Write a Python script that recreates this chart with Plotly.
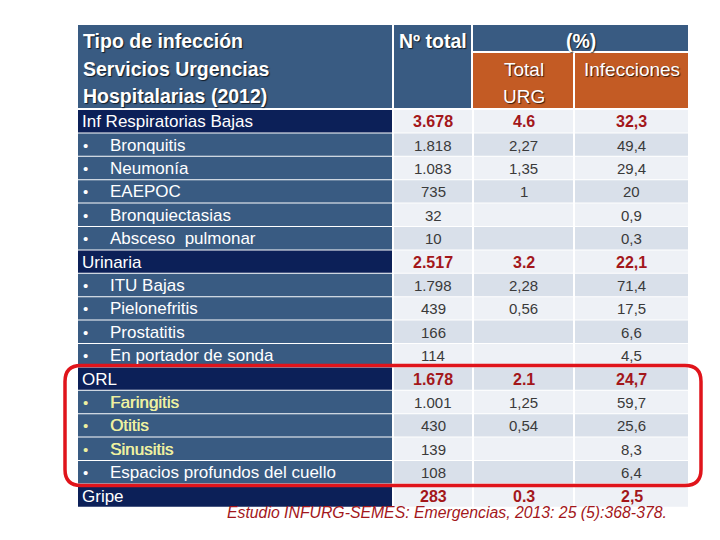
import plotly.graph_objects as go

# ---------------- data ----------------
labels = ["Inf Respiratorias Bajas", "Bronquitis", "Neumonía", "EAEPOC", "Bronquiectasias",
          "Absceso  pulmonar", "Urinaria", "ITU Bajas", "Pielonefritis", "Prostatitis",
          "En portador de sonda", "ORL", "Faringitis", "Otitis", "Sinusitis",
          "Espacios profundos del cuello", "Gripe"]
is_category = [True, False, False, False, False, False, True, False, False, False, False,
               True, False, False, False, False, True]
highlighted = ["Faringitis", "Otitis", "Sinusitis"]
n_total = ["3.678", "1.818", "1.083", "735", "32", "10", "2.517", "1.798", "439", "166", "114",
           "1.678", "1.001", "430", "139", "108", "283"]
pct_total_urg = ["4.6", "2,27", "1,35", "1", "", "", "3.2", "2,28", "0,56", "", "",
                 "2.1", "1,25", "0,54", "", "", "0.3"]
pct_infecciones = ["32,3", "49,4", "29,4", "20", "0,9", "0,3", "22,1", "71,4", "17,5", "6,6", "4,5",
                   "24,7", "59,7", "25,6", "8,3", "6,4", "2,5"]
header_left = ["Tipo de infección", "Servicios Urgencias", "Hospitalarias (2012)"]
header_n = "Nº total"
header_pct = "(%)"
header_sub = ["Total", "URG", "Infecciones"]
footer = "Estudio INFURG-SEMES: Emergencias, 2013: 25 (5):368-378."
highlight_rows = ["ORL"] + highlighted + ["Espacios profundos del cuello"]

# ---------------- layout constants ----------------
FONT = "Liberation Sans, Arial, sans-serif"
BLUE = "#395b82"
NAVY = "#0c2058"
ORANGE = "#c35b24"
LIGHT = "#eef1f6"
DARKER = "#d9e0ea"
RED_TXT = "#a3171b"
GRAY_TXT = "#3a3a3a"
YELLOW = "#eef0a0"

col_left = (78, 392)
col_n = (394, 472)
col_urg = (474, 573)
col_inf = (575, 688)
head_top, head_mid, head_bot = 25, 51, 108
row_top, row_h, gap = 110, 23.4, 1.0

shapes = []
ann = []


def rect(x0, x1, y0, y1, color):
    shapes.append(dict(type="rect", xref="x", yref="y", x0=x0, x1=x1, y0=y0, y1=y1,
                       fillcolor=color, line=dict(width=0), layer="below"))


def text(x, y, s, size, color, anchor="center", bold=False, italic=False, shadow=None):
    f = dict(family=FONT, size=size, color=color)
    if bold:
        f["weight"] = "bold"
    if italic:
        f["style"] = "italic"
    if shadow:
        f["shadow"] = shadow
    ann.append(dict(x=x, y=y, xref="x", yref="y", text=s, showarrow=False, font=f,
                    xanchor=anchor, yanchor="middle"))


SH = "1px 1px 1px rgba(0,0,0,0.7)"
# header cells
rect(col_left[0], col_left[1], head_top, head_bot, BLUE)
rect(col_n[0], col_n[1] - 1, head_top, head_bot, BLUE)
rect(col_urg[0] - 1, col_inf[1], head_top, head_mid, BLUE)
rect(col_urg[0] - 1, col_urg[1], head_mid + 2, head_bot, ORANGE)
rect(col_inf[0], col_inf[1], head_mid + 2, head_bot, ORANGE)

for i, line in enumerate(header_left):
    text(81, 41 + i * 27.5, line, 19.5, "white", anchor="left", bold=True, shadow=SH)
text((col_n[0] + col_n[1]) / 2, 41, header_n, 19.5, "white", bold=True, shadow=SH)
text((col_urg[0] + col_inf[1]) / 2, 41, header_pct, 19.5, "white", bold=True, shadow=SH)
text((col_urg[0] + col_urg[1]) / 2, 69, header_sub[0], 19, "white", shadow=SH)
text((col_urg[0] + col_urg[1]) / 2, 96, header_sub[1], 19, "white", shadow=SH)
text((col_inf[0] + col_inf[1]) / 2, 69, header_sub[2], 19, "white", shadow=SH)

# body rows
for i, lab in enumerate(labels):
    y0 = row_top + i * row_h
    y1 = y0 + row_h - gap
    yc = y0 + row_h / 2
    cat = is_category[i]
    rect(col_left[0], col_left[1], y0, y1, NAVY if cat else BLUE)
    fill = LIGHT if i % 2 == 0 else DARKER
    rect(col_n[0], col_n[1], y0, y1, fill)
    rect(col_urg[0], col_urg[1], y0, y1, fill)
    rect(col_inf[0], col_inf[1], y0, y1, fill)
    if cat:
        text(80, yc, lab, 17, "white", anchor="left")
    else:
        c = YELLOW if lab in highlighted else "white"
        text(81, yc, "•", 15, c, anchor="left")
        text(108, yc, lab, 17, c, anchor="left",
             shadow=("0.4px 0 0 " + c) if lab in highlighted else None)
    vc = RED_TXT if cat else GRAY_TXT
    for col, vals in ((col_n, n_total), (col_urg, pct_total_urg), (col_inf, pct_infecciones)):
        if vals[i]:
            text((col[0] + col[1]) / 2, yc, vals[i], 16 if cat else 15, vc, bold=cat)

# red rounded highlight box around the ORL group
i0 = labels.index(highlight_rows[0])
i1 = labels.index(highlight_rows[-1])
bx0, bx1 = 65, 701
by0 = row_top + i0 * row_h - 2
by1 = row_top + (i1 + 1) * row_h + 1
r = 16
path = (f"M {bx0 + r},{by0} L {bx1 - r},{by0} Q {bx1},{by0} {bx1},{by0 + r} "
        f"L {bx1},{by1 - r} Q {bx1},{by1} {bx1 - r},{by1} L {bx0 + r},{by1} "
        f"Q {bx0},{by1} {bx0},{by1 - r} L {bx0},{by0 + r} Q {bx0},{by0} {bx0 + r},{by0} Z")
shapes.append(dict(type="path", xref="x", yref="y", path=path,
                   line=dict(color="#e0141b", width=3.5), fillcolor="rgba(0,0,0,0)", layer="above"))

# footer
text(447, 512, footer, 15.8, "#a3171b", italic=True)

fig = go.Figure()
fig.add_trace(go.Scatter(x=[0, 720], y=[0, 540], mode="markers", marker=dict(opacity=0),
                         hoverinfo="skip", showlegend=False))
fig.update_layout(width=720, height=540, margin=dict(l=0, r=0, t=0, b=0),
                  paper_bgcolor="white", plot_bgcolor="white",
                  xaxis=dict(range=[0, 720], visible=False, fixedrange=True),
                  yaxis=dict(range=[540, 0], visible=False, fixedrange=True),
                  shapes=shapes, annotations=ann, showlegend=False)
fig.write_html("out.html", config={"displayModeBar": False},
               post_script="document.body.style.margin='0';document.body.style.overflow='hidden';")
